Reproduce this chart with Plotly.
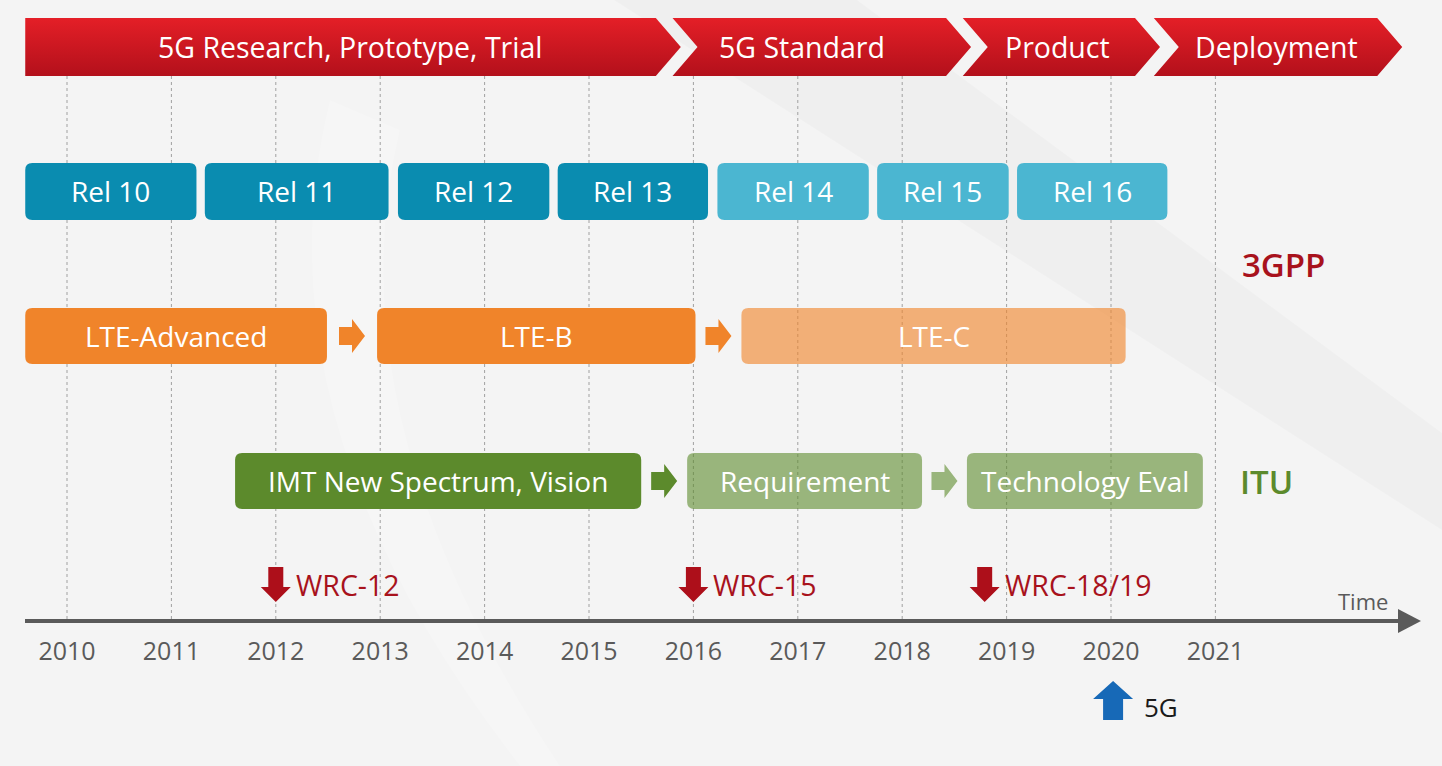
import plotly.graph_objects as go

# ---- data (years on the time axis) ----
years = list(range(2010, 2022))

phases = ["5G Research, Prototype, Trial", "5G Standard", "Product", "Deployment"]
phase_start = [2009.60, 2015.80, 2018.58, 2020.41]
phase_end = [2015.64, 2018.42, 2020.23, 2022.55]

releases = ["Rel 10", "Rel 11", "Rel 12", "Rel 13", "Rel 14", "Rel 15", "Rel 16"]
rel_start = [2009.60, 2011.32, 2013.17, 2014.70, 2016.23, 2017.76, 2019.10]
rel_end = [2011.24, 2013.08, 2014.62, 2016.14, 2017.68, 2019.02, 2020.54]
rel_future = [False, False, False, False, True, True, True]

lte = ["LTE-Advanced", "LTE-B", "LTE-C"]
lte_start = [2009.60, 2012.97, 2016.46]
lte_end = [2012.49, 2016.02, 2020.14]
lte_future = [False, False, True]

itu = ["IMT New Spectrum, Vision", "Requirement", "Technology Eval"]
itu_start = [2011.61, 2015.94, 2018.62]
itu_end = [2015.50, 2018.19, 2020.88]
itu_future = [False, True, True]

wrc = ["WRC-12", "WRC-15", "WRC-18/19"]
wrc_year = [2012.00, 2016.00, 2018.79]

launch_label = "5G"
launch_year = 2020.02

# ---- layout constants ----
W, H = 1442, 766
PX_YEAR = 104.4            # pixels per year
X0 = 2010 - 67 / PX_YEAR   # year at left edge
X1 = X0 + W / PX_YEAR
FONT = "Open Sans"
PHASE_LABEL_DX = [9, -7, 9, 11]   # label nudge inside chevrons, px

RED_TOP, RED_BOT = "#e41f27", "#b3101b"
TEAL, TEAL_LIGHT = "#0a8cb0", "#4bb6d1"
ORANGE = "#f0842a"
GREEN = "#5c8a2c"
DARK_RED = "#a8121c"
GREY = "#5a5a5a"


def px(n):
    return n / PX_YEAR


def rounded_box(x0, x1, y0, y1, r=7):
    rx = px(r)
    return (f"M {x0+rx},{y0} L {x1-rx},{y0} Q {x1},{y0} {x1},{y0+r} "
            f"L {x1},{y1-r} Q {x1},{y1} {x1-rx},{y1} L {x0+rx},{y1} "
            f"Q {x0},{y1} {x0},{y1-r} L {x0},{y0+r} Q {x0},{y0} {x0+rx},{y0} Z")


def right_arrow(xc, yc):
    a, b, c = xc - px(13), xc, xc + px(13)
    return (f"M {a},{yc-9} L {b},{yc-9} L {b},{yc-17} L {c},{yc} "
            f"L {b},{yc+17} L {b},{yc+9} L {a},{yc+9} Z")


fig = go.Figure()
shapes = []
annotations = []

# faint background swooshes
shapes.append(dict(type="path", xref="paper", yref="paper", layer="below",
                   path=f"M {614/W},1 L {857/W},1 L 1,{1-433/H} L 1,{1-530/H} Z",
                   fillcolor="rgba(0,0,0,0.018)", line=dict(width=0)))
shapes.append(dict(type="path", xref="paper", yref="paper", layer="below",
                   path=f"M {330/W},{1-100/H} Q {250/W},{1-420/H} {520/W},0 "
                        f"L {560/W},0 Q {330/W},{1-420/H} {400/W},{1-130/H} Z",
                   fillcolor="rgba(255,255,255,0.18)", line=dict(width=0)))

# dotted year gridlines
for yr in years:
    shapes.append(dict(type="line", xref="x", yref="y", x0=yr, x1=yr, y0=76, y1=619,
                       layer="below", line=dict(color="#a0a0a0", width=1, dash="dot")))

# phase chevrons (gradient fill)
d = px(25)
for i, (name, s, e) in enumerate(zip(phases, phase_start, phase_end)):
    notch = s + d if i > 0 else s
    xs = [s, e, e + d, e, s, notch, s]
    ys = [18, 18, 47, 76, 76, 47, 18]
    fig.add_trace(go.Scatter(
        x=xs, y=ys, mode="lines", fill="toself", line=dict(width=0),
        fillgradient=dict(type="vertical", start=18, stop=76,
                          colorscale=[[0, RED_TOP], [1, RED_BOT]]),
        hoverinfo="skip", showlegend=False))
    annotations.append(dict(x=(s + e) / 2 + px(PHASE_LABEL_DX[i]), y=47, text=name,
                            showarrow=False, font=dict(family=FONT, size=28.5, color="white")))

# 3GPP releases
for name, s, e, fut in zip(releases, rel_start, rel_end, rel_future):
    shapes.append(dict(type="path", xref="x", yref="y", path=rounded_box(s, e, 163, 220),
                       fillcolor=TEAL_LIGHT if fut else TEAL, line=dict(width=0)))
    annotations.append(dict(x=(s + e) / 2, y=191, text=name, showarrow=False,
                            font=dict(family=FONT, size=28, color="white")))

# LTE evolution
for i, (name, s, e, fut) in enumerate(zip(lte, lte_start, lte_end, lte_future)):
    op = 0.62 if fut else 1
    shapes.append(dict(type="path", xref="x", yref="y", path=rounded_box(s, e, 308, 364),
                       fillcolor=ORANGE, opacity=op, line=dict(width=0)))
    annotations.append(dict(x=(s + e) / 2, y=336, text=name, showarrow=False,
                            font=dict(family=FONT, size=28, color="white")))
    if i > 0:
        shapes.append(dict(type="path", xref="x", yref="y",
                           path=right_arrow((lte_end[i - 1] + s) / 2, 336),
                           fillcolor=ORANGE, line=dict(width=0)))

# ITU
for i, (name, s, e, fut) in enumerate(zip(itu, itu_start, itu_end, itu_future)):
    op = 0.6 if fut else 1
    shapes.append(dict(type="path", xref="x", yref="y", path=rounded_box(s, e, 453, 509),
                       fillcolor=GREEN, opacity=op, line=dict(width=0)))
    annotations.append(dict(x=(s + e) / 2, y=481, text=name, showarrow=False,
                            font=dict(family=FONT, size=28, color="white")))
    if i > 0:
        shapes.append(dict(type="path", xref="x", yref="y",
                           path=right_arrow((itu_end[i - 1] + s) / 2, 481),
                           fillcolor=GREEN, opacity=0.6 if itu_future[i - 1] else 1,
                           line=dict(width=0)))

annotations.append(dict(x=2021.65, y=264, text="3GPP", showarrow=False,
                        font=dict(family=FONT, size=33, color=DARK_RED, weight=600)))
annotations.append(dict(x=2021.49, y=481, text="ITU", showarrow=False,
                        font=dict(family=FONT, size=33, color=GREEN, weight=600)))

# WRC markers
for name, yr in zip(wrc, wrc_year):
    sw, hw = px(7.5), px(15)
    shapes.append(dict(type="path", xref="x", yref="y", line=dict(width=0), fillcolor="#ad0f1a",
                       path=(f"M {yr-sw},567 L {yr+sw},567 L {yr+sw},587 L {yr+hw},587 "
                             f"L {yr},602 L {yr-hw},587 L {yr-sw},587 Z")))
    annotations.append(dict(x=yr + px(18), y=585, text=name, showarrow=False, xanchor="left",
                            font=dict(family=FONT, size=28.5, color=DARK_RED)))

# time axis line + arrow head
shapes.append(dict(type="line", xref="x", yref="y", x0=X0 + px(25), x1=X0 + px(1402),
                   y0=621, y1=621, line=dict(color=GREY, width=4)))
shapes.append(dict(type="path", xref="x", yref="y", line=dict(width=0), fillcolor=GREY,
                   path=f"M {X0+px(1398)},609 L {X0+px(1421)},621 L {X0+px(1398)},633 Z"))
annotations.append(dict(x=X0 + px(1363), y=601, text="Time", showarrow=False,
                        font=dict(family=FONT, size=22, color=GREY)))

# 5G launch marker
sw, hw = px(10), px(20)
shapes.append(dict(type="path", xref="x", yref="y", line=dict(width=0), fillcolor="#1769b7",
                   path=(f"M {launch_year},681 L {launch_year+hw},699 L {launch_year+sw},699 "
                         f"L {launch_year+sw},720 L {launch_year-sw},720 L {launch_year-sw},699 "
                         f"L {launch_year-hw},699 Z")))
annotations.append(dict(x=launch_year + px(29), y=707, text=launch_label, showarrow=False,
                        xanchor="left", font=dict(family=FONT, size=26, color="#1a1a1a")))

fig.update_layout(
    template="none",
    width=W, height=H,
    margin=dict(l=0, r=0, t=0, b=0),
    paper_bgcolor="#f4f4f4", plot_bgcolor="#f4f4f4",
    shapes=shapes, annotations=annotations,
    hovermode=False, showlegend=False,
    xaxis=dict(range=[X0, X1], tickvals=years, ticktext=[str(y) for y in years],
               tickfont=dict(family=FONT, size=25, color=GREY),
               showgrid=False, zeroline=False, showline=False,
               anchor="free", position=1 - 621 / H,
               ticks="outside", ticklen=8, tickcolor="rgba(0,0,0,0)", fixedrange=True),
    yaxis=dict(range=[H, 0], visible=False, showgrid=False, zeroline=False, fixedrange=True),
)

fig.write_html("out.html", config={"displayModeBar": False},
               post_script="document.body.style.margin='0';document.body.style.overflow='hidden';")
